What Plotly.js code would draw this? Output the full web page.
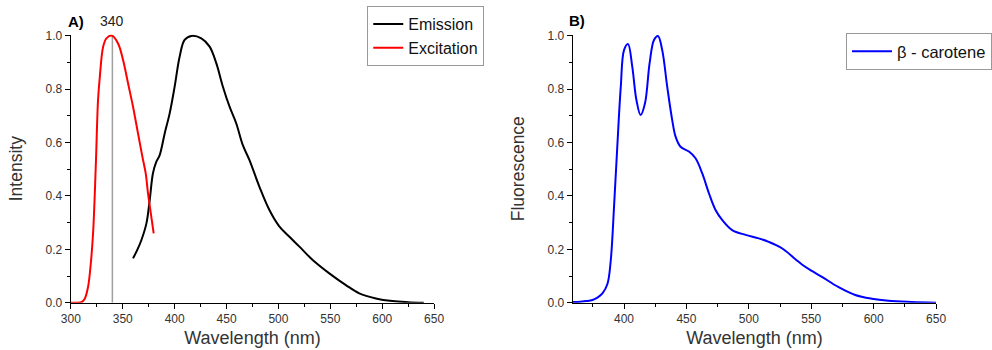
<!DOCTYPE html>
<html>
<head>
<meta charset="utf-8">
<script src="https://cdn.plot.ly/plotly-3.0.1.min.js"></script>
<style>html,body{margin:0;padding:0;background:#fff;}#chart{width:992px;height:350px;}</style>
</head>
<body>
<div id="chart"></div>
<script>
// Panel A: excitation spectrum
const excWavelength = [300, 305, 310, 313.4, 316.6, 318.8, 321.4, 324, 326.2, 327.9, 331.1, 334.3, 339.7, 345.5, 350.3, 355.1, 359.9, 364.7, 368.9, 372.1, 374.3, 376.6, 379.8];
const excIntensity  = [0,   0,   0.002, 0.015, 0.06, 0.13, 0.26, 0.51, 0.76, 0.846, 0.959, 0.99, 1.0, 0.971, 0.909, 0.822, 0.734, 0.634, 0.547, 0.485, 0.41, 0.347, 0.26];
// Panel A: emission spectrum
const emWavelength = [359.9, 364, 368, 372.8, 376, 379.1, 382.4, 385.6, 390.4, 395.2, 400, 404.8, 409.6, 416, 425.7, 433.7, 440.1, 446.5, 452.9, 459.3, 465.7, 472.1, 481.7, 491.3, 501, 510.6, 520.2, 533, 549, 565, 577.9, 593.9, 609.9, 625, 640];
const emIntensity  = [0.166, 0.198, 0.235, 0.297, 0.385, 0.485, 0.528, 0.553, 0.634, 0.709, 0.809, 0.921, 0.984, 0.999, 0.99, 0.959, 0.897, 0.809, 0.734, 0.672, 0.59, 0.534, 0.434, 0.347, 0.285, 0.247, 0.21, 0.16, 0.11, 0.066, 0.035, 0.016, 0.006, 0.002, 0.0];
const excitationPeak = [340];
// Panel B: beta-carotene fluorescence
const bcWavelength = [359, 365, 370, 374.7, 379, 382.7, 386.7, 389.4, 392, 394.6, 397.4, 400, 403.2, 406.6, 409.9, 413.3, 416.8, 420.5, 424, 427.2, 430.6, 434.6, 438.6, 441.3, 445.3, 452, 457.3, 462.6, 468, 473.3, 478.6, 486.6, 497.3, 507.9, 515.9, 526.5, 537.3, 542.5, 550, 558.5, 571.9, 585.2, 598.5, 611.8, 630.5, 650];
const bcFluor      = [0.003, 0.004, 0.006, 0.01, 0.02, 0.035, 0.07, 0.16, 0.36, 0.584, 0.809, 0.946, 0.969, 0.884, 0.76, 0.703, 0.747, 0.897, 0.984, 0.999, 0.946, 0.809, 0.684, 0.622, 0.584, 0.566, 0.541, 0.485, 0.41, 0.347, 0.31, 0.272, 0.254, 0.241, 0.228, 0.204, 0.163, 0.143, 0.12, 0.097, 0.058, 0.029, 0.015, 0.0075, 0.003, 0.0];

const xTicks = [300, 350, 400, 450, 500, 550, 600, 650];
const yTicks = [0, 0.2, 0.4, 0.6, 0.8, 1.0];
const yTickText = ['0.0', '0.2', '0.4', '0.6', '0.8', '1.0'];

const FONT = 'Liberation Sans, Arial, sans-serif';
const tickFont = {family: FONT, size: 12, color: '#333'};

const traces = [
  {x: [excitationPeak[0], excitationPeak[0]], y: [0, 1], xaxis: 'x', yaxis: 'y', mode: 'lines',
   line: {color: '#a0a0a0', width: 1.5}, showlegend: false, hoverinfo: 'skip'},
  {x: emWavelength, y: emIntensity, name: 'Emission', xaxis: 'x', yaxis: 'y', mode: 'lines',
   line: {color: '#000000', width: 2, shape: 'spline', smoothing: 1}, legend: 'legend'},
  {x: excWavelength, y: excIntensity, name: 'Excitation', xaxis: 'x', yaxis: 'y', mode: 'lines',
   line: {color: '#ff0000', width: 2, shape: 'spline', smoothing: 1}, legend: 'legend'},
  {x: bcWavelength, y: bcFluor, name: '\u03b2 - carotene', xaxis: 'x2', yaxis: 'y2', mode: 'lines',
   line: {color: '#0000ff', width: 2, shape: 'spline', smoothing: 1}, legend: 'legend2'}
];

function xAxis(domain, range, anchor) {
  return {
    domain: domain, range: range, anchor: anchor,
    tickvals: xTicks, ticktext: xTicks.map(String),
    ticks: 'outside', ticklen: 5, tickwidth: 1, tickcolor: '#000',
    minor: {ticks: 'outside', ticklen: 3, tickwidth: 1, tickcolor: '#000', dtick: 25, tick0: 300},
    showline: true, linecolor: '#000', linewidth: 1.3, showgrid: false, zeroline: false,
    tickfont: tickFont,
    title: {text: 'Wavelength (nm)', font: {family: FONT, size: 18, color: '#333'}, standoff: 6}
  };
}
function yAxis(anchor, title) {
  return {
    domain: [0.1351, 0.9011], range: [0, 1.004], anchor: anchor,
    tickvals: yTicks, ticktext: yTickText,
    ticks: 'outside', ticklen: 5, tickwidth: 1, tickcolor: '#000',
    minor: {ticks: 'outside', ticklen: 3, tickwidth: 1, tickcolor: '#000', dtick: 0.1, tick0: 0},
    showline: true, linecolor: '#000', linewidth: 1.3, showgrid: false, zeroline: false,
    tickfont: tickFont,
    title: {text: title, font: {family: FONT, size: 17.5, color: '#333'}, standoff: 18}
  };
}

const layout = {
  width: 992, height: 350,
  margin: {l: 0, r: 0, t: 0, b: 0},
  paper_bgcolor: '#fff', plot_bgcolor: '#fff',
  font: {family: FONT},
  xaxis: xAxis([71/992, 435/992], [300, 650], 'y'),
  yaxis: yAxis('x', 'Intensity'),
  xaxis2: xAxis([574/992, 938/992], [359, 650], 'y2'),
  yaxis2: yAxis('x2', 'Fluorescence'),
  legend: {x: 368/992, y: 1 - 6/350, xanchor: 'left', yanchor: 'top',
    bordercolor: '#999', borderwidth: 1, bgcolor: '#fff',
    font: {family: FONT, size: 16, color: '#111'}, tracegroupgap: 0, itemwidth: 30},
  legend2: {x: 848/992, y: 1 - 33/350, xanchor: 'left', yanchor: 'top',
    bordercolor: '#999', borderwidth: 1, bgcolor: '#fff',
    font: {family: FONT, size: 16.5, color: '#111'}, itemwidth: 40},
  annotations: [
    {text: '<b>A)</b>', xref: 'paper', yref: 'paper', x: 66/992, y: 1 - 21/350, xanchor: 'left', yanchor: 'middle',
     showarrow: false, font: {family: FONT, size: 15, color: '#000'}},
    {text: String(excitationPeak[0]), xref: 'x', yref: 'paper', x: excitationPeak[0], y: 1 - 21/350, xanchor: 'center', yanchor: 'middle',
     showarrow: false, font: {family: FONT, size: 14, color: '#222'}},
    {text: '<b>B)</b>', xref: 'paper', yref: 'paper', x: 568/992, y: 1 - 20/350, xanchor: 'left', yanchor: 'middle',
     showarrow: false, font: {family: FONT, size: 15, color: '#000'}}
  ]
};

Plotly.newPlot('chart', traces, layout, {staticPlot: true, displayModeBar: false});
</script>
</body>
</html>
